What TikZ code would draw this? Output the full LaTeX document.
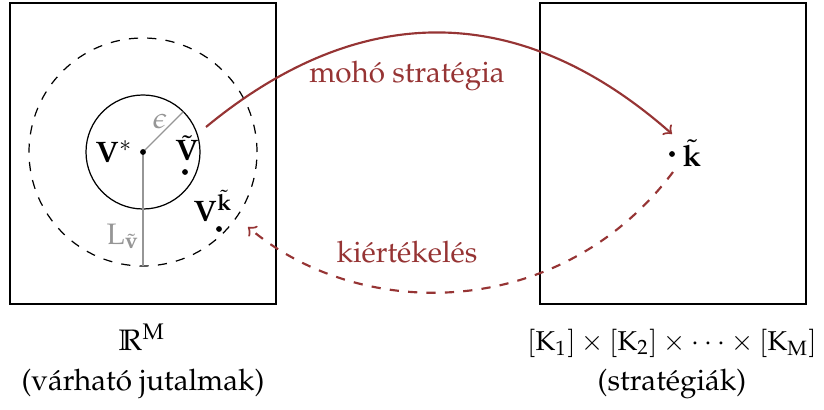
\documentclass[tikz,border=0pt]{standalone}
\usepackage[T1]{fontenc}
\usepackage{amssymb}
\usepackage{mathpazo}
\usepackage{graphicx}
\definecolor{myred}{RGB}{150,52,52}
\definecolor{mygray}{RGB}{150,150,150}
\begin{document}
\begin{tikzpicture}[x=0.326pt,y=-0.326pt,
  every node/.style={font=\fontsize{9.65}{11.6}\selectfont},
  frame/.style={draw=black,line width=0.4pt},
  dotm/.style={fill=black},
  redarrow/.style={draw=myred,line width=0.7pt,->},
  redlabel/.style={text=myred,inner sep=0pt},
  graylabel/.style={text=mygray,inner sep=0pt},
  lbl/.style={inner sep=0pt}]
\useasboundingbox (0,0) rectangle (824,410);
% boxes
\node[frame,minimum width=266*0.326pt,minimum height=301*0.326pt,inner sep=0pt] (boxL) at (143,153.5) {};
\node[frame,minimum width=266*0.326pt,minimum height=301*0.326pt,inner sep=0pt] (boxR) at (673,153.5) {};
% left content
\coordinate (c) at (143,152);
\draw[dashed,line width=0.4pt] (c) circle[radius=114*0.326pt];
\draw[line width=0.4pt] (c) circle[radius=57*0.326pt];
\coordinate (eps) at (183.3,111.7);
\coordinate (Lend) at (143,266);
\draw[mygray,line width=0.4pt] (c) -- (eps);
\draw[mygray,line width=0.4pt] (c) -- (Lend);
\fill[dotm] (c) circle[radius=0.95pt];
\coordinate (vt) at (185,172);
\fill[dotm] (vt) circle[radius=0.95pt];
\coordinate (vk) at (219,229);
\fill[dotm] (vk) circle[radius=0.95pt];
\coordinate (kt) at (672,154);
\fill[dotm] (kt) circle[radius=0.95pt];
\node[lbl] (vstar) at (114,152) {$\mathbf{V}^{*}$};
\node[lbl] (vtl) at (187,148) {$\tilde{\mathbf{V}}$};
\node[lbl] (vkl) at (213,206) {$\mathbf{V}^{\tilde{\mathbf{k}}}$};
\node[graylabel] (epsl) at (160,121) {$\epsilon$};
\node[graylabel] (Ll) at (123,236) {$\mathrm{L}_{\tilde{\mathbf{v}}}$};
\node[lbl] (ktl) at (692,153) {$\tilde{\mathbf{k}}$};
% arrows
\coordinate (a1s) at (206,127);
\coordinate (a1e) at (672,134);
\draw[redarrow] (a1s) .. controls (360,0) and (520,0) .. (a1e);
\coordinate (a2s) at (673,172);
\coordinate (a2e) at (248,227);
\draw[redarrow,dashed] (a2s) .. controls (560,322) and (360,322) .. (a2e);
\node[redlabel] (greedy) at (407,76) {moh\'o strat\'egia};
\node[redlabel] (eval) at (407,252) {ki\'ert\'ekel\'es};
% bottom labels
\node[lbl] (rm) at (142,337) {$\mathbb{R}^{\mathrm{M}}$};
\node[lbl] (rml) at (143,384) {(v\'arhat\'o jutalmak)};
\node[lbl] (kk) at (672,343) {\scalebox{0.92}{$[\mathrm{K}_1]\times[\mathrm{K}_2]\times\cdots\times[\mathrm{K}_{\mathrm{M}}]$}};
\node[lbl] (kkl) at (672,384) {(strat\'egi\'ak)};
\end{tikzpicture}
\end{document}
